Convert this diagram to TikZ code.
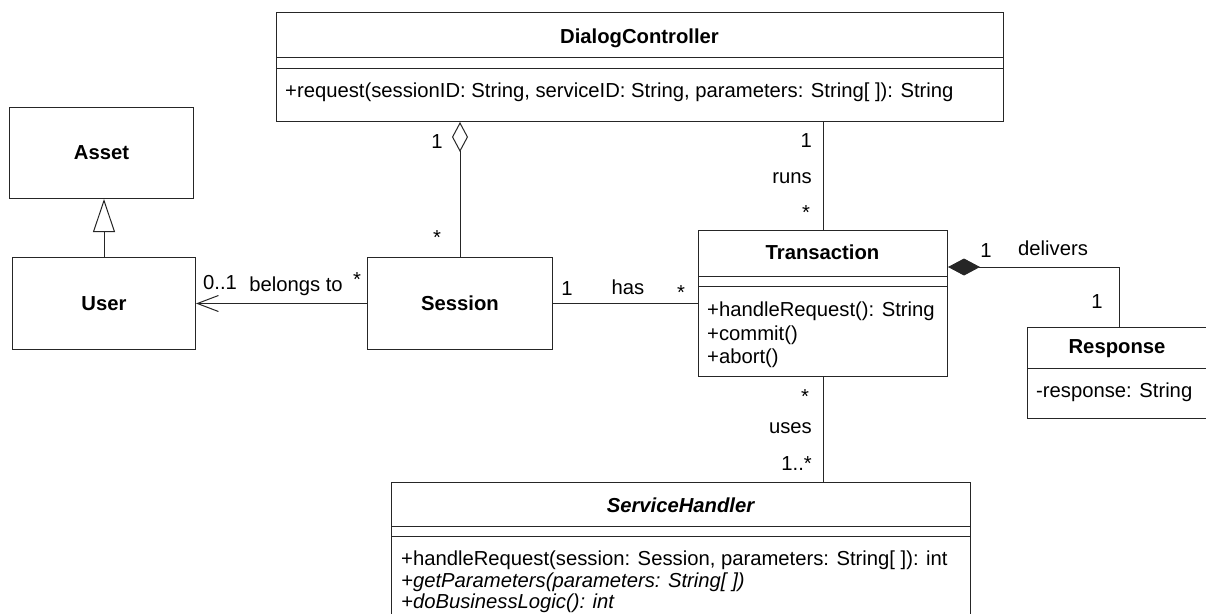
\documentclass[tikz,border=0pt]{standalone}
\usepackage{fontspec}
\setmainfont{Liberation Sans}
\usetikzlibrary{arrows.meta}
\begin{document}
\begin{tikzpicture}[x=1pt,y=-1pt,
  every node/.style={font=\fontsize{20.25}{23.5}\selectfont, inner sep=0pt, text=black},
  cls/.style={draw=black!85, line width=1pt, anchor=north west, inner sep=0pt, font=\fontsize{20.25}{23.5}\selectfont\bfseries},
  ttl/.style={anchor=base, font=\fontsize{20.25}{23.5}\selectfont\bfseries},
  mth/.style={anchor=base west},
  imth/.style={anchor=base west, font=\fontsize{20.25}{23.5}\selectfont\itshape},
  lbl/.style={anchor=base},
  rlbl/.style={anchor=base east},
  conn/.style={draw=black!85, line width=1pt},
  sep/.style={draw=black!85, line width=1pt},
]
\useasboundingbox (0,0) rectangle (1206,613);
\clip (0,0) rectangle (1206,613);

% DialogController
\node[cls, minimum width=727pt, minimum height=109pt] (dc) at (276,12) {};
\draw[sep] ([yshift=-45pt]dc.north west) -- ([yshift=-45pt]dc.north east);
\draw[sep] ([yshift=-56pt]dc.north west) -- ([yshift=-56pt]dc.north east);
\node[ttl] (dct) at (639.5,43) {DialogController};
\node[mth] (dcm) at (285,97) {+request(sessionID: String, serviceID: String, parameters: String[ ]): String};

% Asset, User, Session
\node[cls, minimum width=184pt, minimum height=91pt] (asset) at (9,107) {Asset};
\node[cls, minimum width=183pt, minimum height=92pt] (user) at (12,257) {User};
\node[cls, minimum width=185pt, minimum height=92pt] (session) at (367,257) {Session};

% Transaction
\node[cls, minimum width=249pt, minimum height=146pt] (trans) at (698,230) {};
\draw[sep] ([yshift=-46pt]trans.north west) -- ([yshift=-46pt]trans.north east);
\draw[sep] ([yshift=-56pt]trans.north west) -- ([yshift=-56pt]trans.north east);
\node[ttl] (transt) at (822.5,259) {Transaction};
\node[mth] (tm1) at (707,316.5) {+handleRequest(): String};
\node[mth] (tm2) at (707,340) {+commit()};
\node[mth] (tm3) at (707,363.5) {+abort()};

% Response
\node[cls, minimum width=183pt, minimum height=91pt] (resp) at (1027,327) {};
\draw[sep] ([yshift=-41pt]resp.north west) -- ([yshift=-41pt]resp.north east);
\node[ttl] (respt) at (1117,353) {Response};
\node[mth] (respa) at (1036,397) {-response: String};

% ServiceHandler
\node[cls, minimum width=579pt, minimum height=140pt] (sh) at (391,482) {};
\draw[sep] ([yshift=-44pt]sh.north west) -- ([yshift=-44pt]sh.north east);
\draw[sep] ([yshift=-54pt]sh.north west) -- ([yshift=-54pt]sh.north east);
\node[ttl, font=\fontsize{20.25}{23.5}\selectfont\bfseries\itshape] (sht) at (680.5,512) {ServiceHandler};
\node[mth] (sm1) at (401,565) {+handleRequest(session: Session, parameters: String[ ]): int};
\node[imth] (sm2) at (401,587) {+getParameters(parameters: String[ ])};
\node[imth] (sm3) at (401,608) {+doBusinessLogic(): int};

% Connectors
\draw[conn, -{Triangle[open, length=33pt, width=22pt]}] (user.north) -- (user.north |- asset.south);
\draw[conn, -{Straight Barb[length=21pt, width=16pt]}] (session.west) -- (user.east);
\draw[conn, -{Diamond[open, length=30pt, width=16pt]}] (session.north) -- (session.north |- dc.south);
\draw[conn] (trans.north) -- (trans.north |- dc.south);
\draw[conn] (session.east) -- (trans.west);
\draw[conn] (trans.south) -- (trans.south |- sh.north);
\draw[conn, -{Diamond[length=32pt, width=17pt]}] (resp.north) |- ([yshift=-37pt]trans.north east);

% Labels
\node[lbl] (l1) at (437,148) {1};
\node[lbl] (l2) at (437,244) {*};
\node[rlbl] (l3) at (812,147) {1};
\node[rlbl] (l4) at (812,183) {runs};
\node[lbl] (l5) at (806,219) {*};
\node[lbl] (l6) at (567,295) {1};
\node[lbl] (l7) at (628,294) {has};
\node[lbl] (l8) at (681,299) {*};
\node[lbl] (l9) at (220,289) {0..1};
\node[lbl] (l10) at (296,291) {belongs to};
\node[lbl] (l11) at (357,286) {*};
\node[lbl] (l12) at (986,257) {1};
\node[lbl] (l13) at (1053,255) {delivers};
\node[lbl] (l14) at (1097,308) {1};
\node[lbl] (l15) at (805,403) {*};
\node[rlbl] (l16) at (812,433) {uses};
\node[rlbl] (l17) at (812,470) {1..*};
\end{tikzpicture}
\end{document}
